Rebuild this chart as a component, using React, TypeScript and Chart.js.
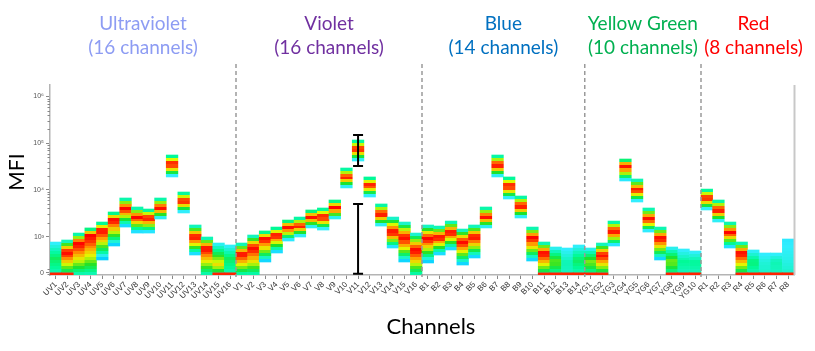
import React, { useEffect, useRef } from "react";
import { Chart, registerables } from "chart.js";
Chart.register(...registerables);

// ---------- data ----------
const channels = [
  "UV1","UV2","UV3","UV4","UV5","UV6","UV7","UV8","UV9","UV10","UV11","UV12","UV13","UV14","UV15","UV16",
  "V1","V2","V3","V4","V5","V6","V7","V8","V9","V10","V11","V12","V13","V14","V15","V16",
  "B1","B2","B3","B4","B5","B6","B7","B8","B9","B10","B11","B12","B13","B14",
  "YG1","YG2","YG3","YG4","YG5","YG6","YG7","YG8","YG9","YG10",
  "R1","R2","R3","R4","R5","R6","R7","R8",
];
// upper edge of the population (MFI)
const highMFI = [
  850, 906, 1190, 1530, 2050, 3360, 6700, 4300, 3890, 6700, 55800, 9000, 1770, 988, 823, 769,
  823, 1080, 1320, 1600, 2260, 2620, 3710, 4090, 6070, 29400, 116900, 18900, 4990, 2620, 2050, 1190,
  1770, 1680, 2150, 1450, 1770, 4300, 55800, 18900, 7390, 1600, 851, 714, 686, 769,
  686, 823, 2150, 45800, 17100, 4090, 1600, 714, 659, 604,
  10400, 6070, 2050, 851, 632, 549, 549, 933,
];
// densest point of the population (MFI)
const peakMFI = [
  400, 577, 823, 1080, 1380, 2260, 4090, 2620, 2500, 4090, 35800, 5780, 988, 686, 220, 400,
  520, 686, 933, 1080, 1600, 1680, 2620, 2620, 4090, 18900, 75000, 12700, 3040, 1250, 960, 632,
  960, 988, 1250, 851, 988, 2620, 34100, 12100, 4520, 960, 549, 300, 300, 350,
  300, 494, 1320, 32400, 9940, 2380, 960, 300, 300, 300,
  6700, 3710, 1250, 549, 300, 300, 300, 400,
];
// lower edge of the population (MFI)
const lowMFI = [
  -50, -50, -50, -50, 357, 741, 1600, 1190, 1190, 2380, 18900, 3200, 494, -50, -50, -50,
  -50, -50, 302, 549, 878, 988, 1530, 1380, 2380, 11000, 41500, 7030, 1680, 686, 302, -50,
  275, 494, 632, 219, 412, 1530, 18900, 6380, 2500, 329, -50, -50, -50, -50,
  -50, -50, 741, 15500, 5500, 1250, 357, -50, -50, -50,
  3710, 2050, 686, -50, -50, -50, -50, -50,
];
// relative event density at the peak (1 = highest)
const peakDensity = [
  0.5, 1, 1, 1, 1, 1, 1, 1, 1, 1, 1, 1, 1, 1, 0.72, 0.5,
  1, 1, 1, 1, 1, 1, 1, 1, 1, 1, 1, 1, 1, 1, 1, 1,
  1, 1, 1, 1, 1, 1, 1, 1, 1, 1, 1, 0.6, 0.42, 0.5,
  0.62, 1, 1, 1, 1, 1, 1, 0.62, 0.45, 0.45,
  1, 1, 1, 1, 0.48, 0.38, 0.42, 0.36,
];
// events piled up at zero
const zeroPile = [
  1, 1, 0, 0, 0, 0, 0, 0, 0, 0, 0, 0, 0, 0, 1, 1,
  0, 0, 0, 0, 0, 0, 0, 0, 0, 0, 0, 0, 0, 0, 0, 0,
  0, 0, 0, 0, 0, 0, 0, 0, 0, 0, 1, 1, 1, 1,
  1, 1, 0, 0, 0, 0, 0, 1, 1, 1,
  0, 0, 0, 1, 1, 1, 1, 1,
];

const groupNames = ["Ultraviolet", "Violet", "Blue", "Yellow Green", "Red"];
const groupCounts = [16, 16, 14, 10, 8];
const groupColors = ["#8d9cf3", "#7030a0", "#0070c0", "#00b050", "#ff0000"];

const errorBarChannel = "V11";
const errorBarLow = [32400, -20];
const errorBarHigh = [149600, 4990];

const yTickMFI = [0, 1e3, 1e4, 1e5, 1e6];
const yTickLabels = ["0", "10\u00b3", "10\u2074", "10\u2075", "10\u2076"];

// ---------- helpers ----------
const LIN = 0.78; // axis units between 0 and 10^3
function toAxis(v: number): number {
  return v >= 1000 ? LIN + Math.log10(v / 1000) : (LIN * v) / 1000;
}

const cmap: [number, number[]][] = [
  [0.0, [0, 60, 255]],
  [0.2, [0, 150, 255]],
  [0.28, [0, 205, 255]],
  [0.34, [50, 238, 255]],
  [0.45, [0, 250, 150]],
  [0.55, [30, 225, 40]],
  [0.68, [225, 250, 0]],
  [0.8, [255, 160, 0]],
  [0.92, [255, 40, 0]],
  [1.0, [255, 0, 0]],
];
function colorAt(t: number): string {
  t = Math.max(0, Math.min(1, t));
  for (let i = 1; i < cmap.length; i++) {
    if (t <= cmap[i][0]) {
      const [t0, c0] = cmap[i - 1];
      const [t1, c1] = cmap[i];
      const f = (t - t0) / (t1 - t0);
      const c = c0.map((v, k) => Math.round(v + (c1[k] - v) * f));
      return `rgb(${c[0]},${c[1]},${c[2]})`;
    }
  }
  return "rgb(255,0,0)";
}

function densityGradient(ctx: any) {
  const chart = ctx.chart;
  if (!chart.chartArea || ctx.type !== "data") return "rgba(0,0,0,0)";
  const i = ctx.dataIndex;
  const ys = chart.scales.y;
  const top = ys.getPixelForValue(toAxis(highMFI[i]));
  const bot = ys.getPixelForValue(toAxis(lowMFI[i]));
  const pk = ys.getPixelForValue(toAxis(peakMFI[i]));
  const h = Math.max(1, bot - top);
  const p = Math.min(0.98, Math.max(0.02, (pk - top) / h));
  const D = peakDensity[i];
  const dTop = 0.33;
  const dBot = lowMFI[i] <= 0 ? 0.4 : 0.25;
  const g = chart.ctx.createLinearGradient(0, top, 0, bot);
  const n = Math.max(4, Math.round(h / 3));
  for (let k = 0; k < n; k++) {
    const f = (k + 0.5) / n;
    let d;
    if (f <= p) d = dTop + (D - dTop) * (f / p);
    else d = dBot + (D - dBot) * ((1 - f) / (1 - p));
    const c = colorAt(d);
    g.addColorStop(k / n, c);
    g.addColorStop(Math.min(1, (k + 1) / n - 0.0001), c);
  }
  return g;
}

const overlayPlugin = {
  id: "overlay",
  afterDraw(chart: any) {
    const { ctx, chartArea } = chart;
    const xs = chart.scales.x;
    const ys = chart.scales.y;
    ctx.save();

    // right frame line
    ctx.strokeStyle = "#c8c8c8";
    ctx.lineWidth = 2;
    ctx.beginPath();
    ctx.moveTo(chartArea.right + 0.5, chartArea.top);
    ctx.lineTo(chartArea.right + 0.5, chartArea.bottom);
    ctx.stroke();

    // minor ticks on y
    ctx.strokeStyle = "#888";
    ctx.lineWidth = 1;
    const minors: number[] = [-40, 120];
    for (let d = 3; d <= 5; d++) for (let m = 2; m <= 9; m++) minors.push(m * Math.pow(10, d));
    for (let m = 2; m <= 9; m++) minors.push(m * 1e6);
    minors.forEach((v) => {
      const y = Math.round(ys.getPixelForValue(toAxis(v))) + 0.5;
      if (y < chartArea.top || y > chartArea.bottom + 1) return;
      ctx.beginPath();
      ctx.moveTo(chartArea.left - 2.5, y);
      ctx.lineTo(chartArea.left, y);
      ctx.stroke();
    });

    // group separators and titles
    let start = 0;
    groupCounts.forEach((cnt, gi) => {
      const end = start + cnt - 1;
      const x0 = (xs.getPixelForValue(start) + xs.getPixelForValue(start - 1)) / 2;
      const x1 = end === channels.length - 1
        ? chartArea.right
        : (xs.getPixelForValue(end) + xs.getPixelForValue(end + 1)) / 2;
      const cx = gi === groupCounts.length - 1 ? (x0 + x1) / 2 + 6 : (x0 + x1) / 2;
      ctx.fillStyle = groupColors[gi];
      ctx.font = "19px Lato, 'Open Sans', sans-serif";
      ctx.textAlign = "center";
      ctx.textBaseline = "middle";
      ctx.fillText(groupNames[gi], cx, 24);
      ctx.fillText(`(${cnt} channels)`, cx, 48);
      if (gi < groupCounts.length - 1) {
        ctx.strokeStyle = "#9a9a9a";
        ctx.lineWidth = 1.5;
        ctx.setLineDash([4, 3]);
        ctx.beginPath();
        ctx.moveTo(x1, 64);
        ctx.lineTo(x1, chartArea.bottom + 2);
        ctx.stroke();
        ctx.setLineDash([]);
      }
      start = end + 1;
    });

    // error bars
    const ex = xs.getPixelForValue(channels.indexOf(errorBarChannel));
    ctx.strokeStyle = "#000";
    ctx.lineWidth = 2;
    for (let k = 0; k < errorBarLow.length; k++) {
      const yl = ys.getPixelForValue(toAxis(errorBarLow[k]));
      const yh = ys.getPixelForValue(toAxis(errorBarHigh[k]));
      ctx.beginPath();
      ctx.moveTo(ex, yl);
      ctx.lineTo(ex, yh);
      ctx.moveTo(ex - 5, yl);
      ctx.lineTo(ex + 5, yl);
      ctx.moveTo(ex - 5, yh);
      ctx.lineTo(ex + 5, yh);
      ctx.stroke();
    }

    // axis titles
    ctx.fillStyle = "#000";
    ctx.textAlign = "center";
    ctx.textBaseline = "middle";
    ctx.font = "22px Lato, 'Open Sans', sans-serif";
    ctx.fillText("Channels", 431, 327);
    ctx.save();
    ctx.translate(17, 172);
    ctx.rotate(-Math.PI / 2);
    ctx.font = "21px Lato, 'Open Sans', sans-serif";
    ctx.fillText("MFI", 0, 0);
    ctx.restore();

    ctx.restore();
  },
};

export default function App() {
  const ref = useRef<HTMLCanvasElement | null>(null);
  useEffect(() => {
    if (!ref.current) return;
    const chart = new Chart(ref.current, {
      type: "bar",
      data: {
        labels: channels,
        datasets: [
          {
            label: "zero",
            data: zeroPile.map((z) => (z ? [toAxis(-50), toAxis(5)] : null)) as any,
            backgroundColor: "#ff2200",
            borderWidth: 0,
            barPercentage: 1,
            categoryPercentage: 1,
            grouped: false,
          } as any,
          {
            label: "density",
            data: channels.map((_, i) => [toAxis(lowMFI[i]), toAxis(highMFI[i])]) as any,
            backgroundColor: densityGradient as any,
            borderWidth: 0,
            barPercentage: 1,
            categoryPercentage: 1,
            grouped: false,
          } as any,
        ],
      },
      options: {
        animation: false,
        responsive: false,
        layout: { padding: { top: 85, right: 21, left: 0, bottom: 0 } },
        plugins: { legend: { display: false }, tooltip: { enabled: false }, title: { display: false } },
        scales: {
          x: {
            type: "category",
            offset: true,
            grid: { drawOnChartArea: false, drawTicks: true, tickLength: 4, color: "#888", offset: false },
            border: { display: true, color: "#b4b4b4", width: 1.5 },
            ticks: {
              autoSkip: false,
              maxRotation: 45,
              minRotation: 45,
              padding: 1,
              color: "#333",
              font: { size: 8, family: "'Liberation Sans', Arial, sans-serif" },
            },
            afterFit: (s: any) => { s.height = 76; },
          },
          y: {
            type: "linear",
            min: toAxis(-55),
            max: toAxis(1e6) + 0.246,
            afterBuildTicks: (s: any) => { s.ticks = yTickMFI.map((v) => ({ value: toAxis(v) })); },
            grid: { drawOnChartArea: false, drawTicks: true, tickLength: 4, color: "#888" },
            border: { display: true, color: "#b4b4b4", width: 1.5 },
            ticks: {
              autoSkip: false,
              padding: 2,
              color: "#555",
              font: { size: 7, family: "'Liberation Sans', Arial, sans-serif" },
              callback: (_v: any, idx: number) => yTickLabels[idx],
            },
            afterFit: (s: any) => { s.width = 50; },
          },
        },
      },
      plugins: [overlayPlugin],
    });
    return () => chart.destroy();
  }, []);
  return (
    <div style={{ position: "fixed", left: 0, top: 0, width: 815, height: 351, background: "#fff" }}>
      <canvas ref={ref} width={815} height={351} />
    </div>
  );
}
